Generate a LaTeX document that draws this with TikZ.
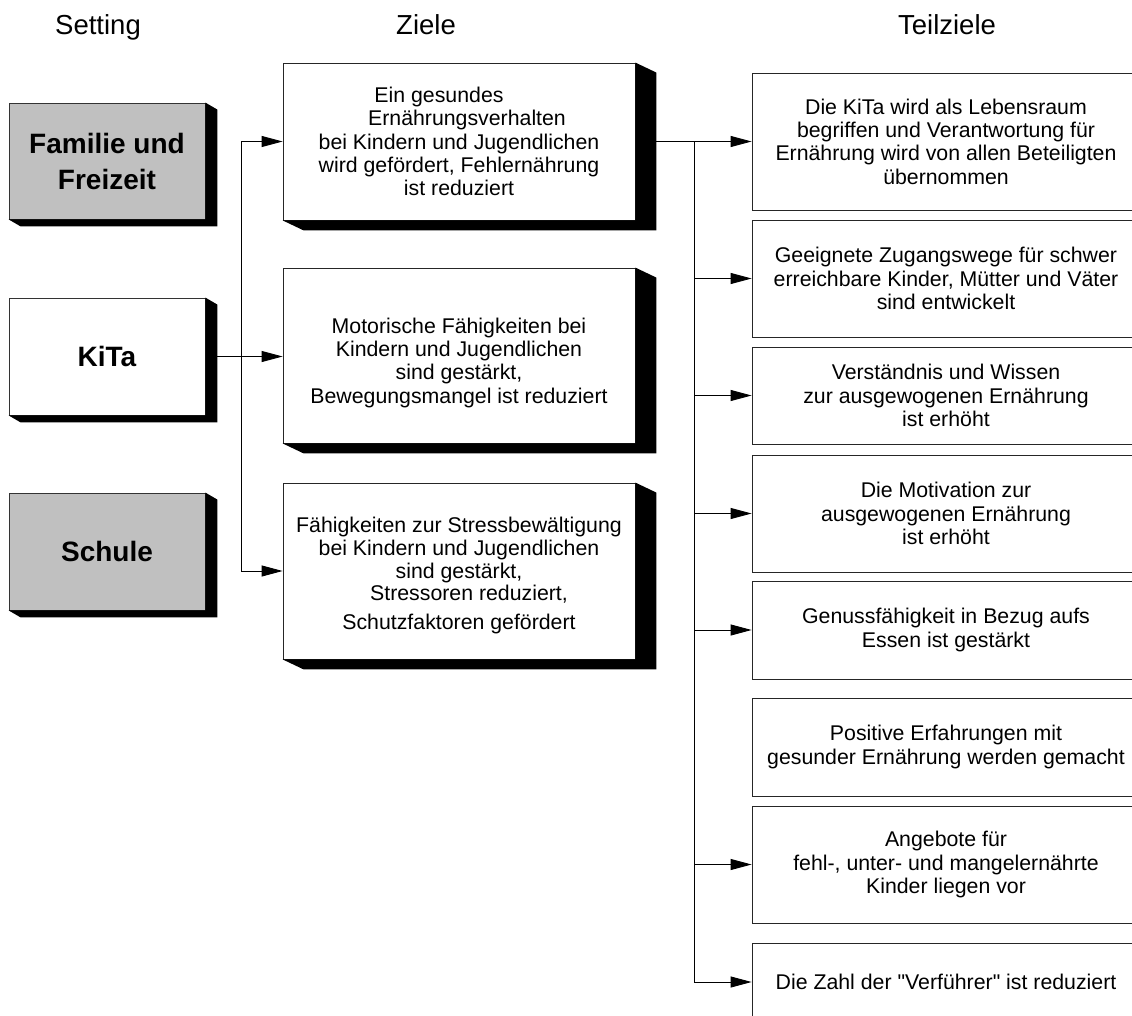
\documentclass[tikz,border=0pt]{standalone}
\usepackage{fontspec}
\setmainfont{Liberation Sans}
\newfontfamily\plainsans{Liberation Sans}
\usetikzlibrary{arrows.meta}
\definecolor{boxgray}{HTML}{C0C0C0}
\newcommand\dropshade[3]{%
  \fill[black] (#1.north east) -- ++(#2,#3) -- ([shift={(#2,#3)}]#1.south east)
    -- ([shift={(#2,#3)}]#1.south west) -- (#1.south west) -- (#1.south east) -- cycle;}
\begin{document}
\begin{tikzpicture}[x=1pt,y=-1pt,
  header/.style={anchor=base, inner sep=0pt, font=\fontsize{27.5}{32}\selectfont},
  setbox/.style={draw=black!80, line width=0.8pt, inner sep=0pt, align=center,
    minimum width=196pt, minimum height=117pt,
    font=\bfseries\fontsize{28}{36}\selectfont},
  zielbox/.style={draw=black!85, line width=0.8pt, fill=white, inner sep=0pt, align=center,
    minimum width=352pt, font=\fontsize{21.3}{23.3}\selectfont},
  teilbox/.style={draw=black!85, line width=0.8pt, fill=white, inner sep=0pt, align=center,
    minimum width=388pt, font=\fontsize{21.3}{23.3}\selectfont},
  conn/.style={line width=0.9pt, black},
  arr/.style={conn, -{Triangle[length=21pt,width=11pt]}}
]
\useasboundingbox (0,0) rectangle (1132,1016);
\clip (0,0) rectangle (1132,1016);

% headers
\node[header] (hs) at (98,35) {Setting};
\node[header] (hz) at (426,35) {Ziele};
\node[header] (ht) at (947,35) {Teilziele};

% Setting boxes
\node[setbox, fill=boxgray, minimum height=116pt] (fam) at (107,161) {Familie und\\Freizeit};
\dropshade{fam}{12}{7}
\node[setbox, fill=white] (kita) at (107,356.5) {KiTa};
\dropshade{kita}{12}{7}
\node[setbox, fill=boxgray] (schule) at (107,551.5) {Schule};
\dropshade{schule}{12}{7}

% Ziele boxes
\node[zielbox, minimum height=157pt] (z1) at (459,141.5)
  {Ein gesundes\hspace*{40pt}\\\hspace*{16pt}Ernährungsverhalten\\bei Kindern und Jugendlichen\\wird gefördert, Fehlernährung\hspace*{22pt}\\ist reduziert};
\dropshade{z1}{21}{10}
\node[zielbox, minimum height=175pt] (z2) at (459,355.5)
  {\rule{0pt}{30pt}Motorische Fähigkeiten bei\\Kindern und Jugendlichen\\sind gestärkt,\\Bewegungsmangel ist reduziert};
\dropshade{z2}{21}{10}
\node[zielbox, minimum height=176pt] (z3) at (459,571)
  {\rule{0pt}{24pt}Fähigkeiten zur Stressbewältigung\\bei Kindern und Jugendlichen\\sind gestärkt,\hspace*{16pt}\\[-2pt]\hspace*{20pt}Stressoren reduziert,\\[6pt]Schutzfaktoren gefördert};
\dropshade{z3}{21}{10}

% Teilziele boxes
\node[teilbox, minimum height=137pt] (t1) at (946,141.5)
  {Die KiTa wird als Lebensraum\\begriffen und Verantwortung für\\Ernährung wird von allen Beteiligten\\übernommen};
\node[teilbox, minimum height=117pt] (t2) at (946,278.5)
  {Geeignete Zugangswege für schwer\\erreichbare Kinder, Mütter und Väter\\sind entwickelt};
\node[teilbox, minimum height=97pt] (t3) at (946,395.5)
  {Verständnis und Wissen\\zur ausgewogenen Ernährung\\ist erhöht};
\node[teilbox, minimum height=117pt] (t4) at (946,513.5)
  {Die Motivation zur\\ausgewogenen Ernährung\\ist erhöht};
\node[teilbox, minimum height=98pt] (t5) at (946,630)
  {Genussfähigkeit in Bezug aufs\\Essen ist gestärkt};
\node[teilbox, minimum height=98pt] (t6) at (946,747)
  {Positive Erfahrungen mit\\gesunder Ernährung werden gemacht};
\node[teilbox, minimum height=117pt] (t7) at (946,864.5)
  {Angebote für\\fehl-, unter- und mangelernährte\\Kinder liegen vor};
\node[teilbox, minimum height=78pt] (t8) at (946,982)
  {\plainsans Die Zahl der "Verführer" ist reduziert};

% Setting -> Ziele
\coordinate (jl) at (241,356.5);
\draw[arr] ([xshift=12pt]kita.east) -- (kita.east -| z2.west);
\draw[arr] (jl) |- (z1.west);
\draw[arr] (jl) |- (z3.west);

% Ziele -> Teilziele
\coordinate (jr) at (694,141.5);
\draw[conn, line width=1.6pt] ([xshift=21pt]z1.east) -- (jr);
\draw[arr] (jr) -- (t1.west);
\draw[arr] (jr) |- (t2.west);
\draw[arr] (jr) |- (t3.west);
\draw[arr] (jr) |- (t4.west);
\draw[arr] (jr) |- (t5.west);
\draw[arr] (jr) |- (t7.west);
\draw[arr] (jr) |- (t8.west);
\end{tikzpicture}
\end{document}
